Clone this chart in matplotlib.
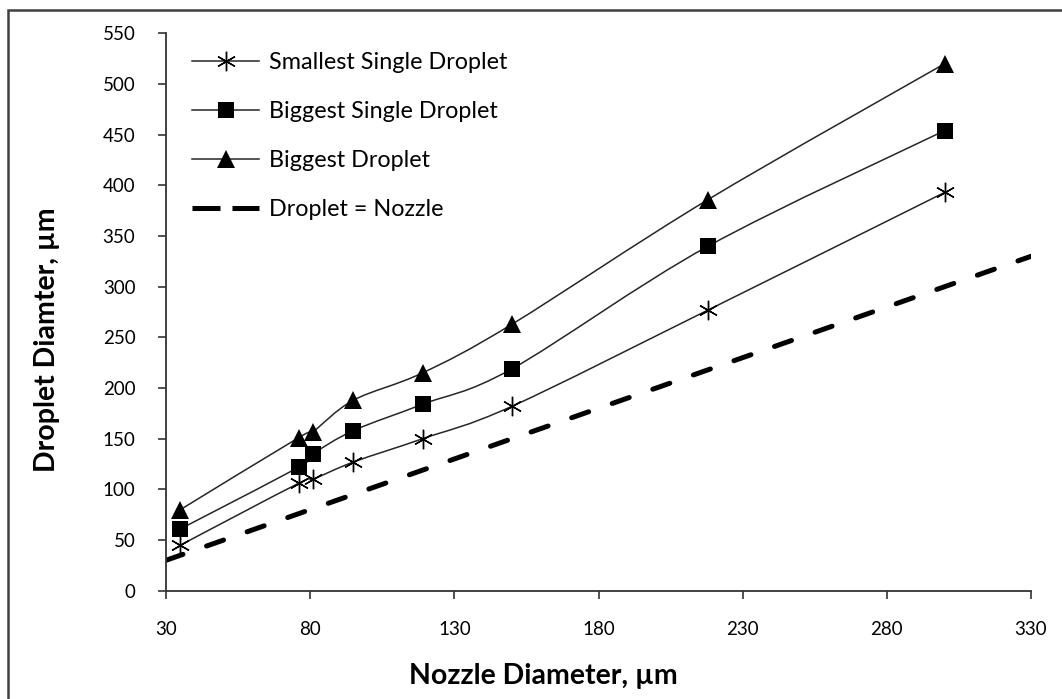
import numpy as np
import matplotlib
matplotlib.use("Agg")
import matplotlib.pyplot as plt
from matplotlib.path import Path
from matplotlib.patches import PathPatch, Rectangle
from matplotlib.lines import Line2D

plt.rcParams['font.family'] = ['Lato', 'DejaVu Sans']

# Nozzle diameters (µm) and measured droplet diameters (µm)
nozzle = [35, 76, 81, 95, 119, 150, 218, 300]
smallest_single = [45, 106, 110, 127, 150, 182, 277, 393]
biggest_single = [61, 122, 135, 158, 184, 219, 340, 454]
biggest = [80, 151, 157, 188, 215, 263, 386, 520]

reference_x = [30, 330]
reference_y = [30, 330]

x_ticks = [30, 80, 130, 180, 230, 280, 330]
y_ticks = list(range(0, 551, 50))

series_labels = ["Smallest Single Droplet", "Biggest Single Droplet",
                 "Biggest Droplet", "Droplet = Nozzle"]


def smooth_path(xs, ys):
    """Cubic Bezier path through the points (Catmull-Rom style smoothing)."""
    pts = np.column_stack([xs, ys]).astype(float)
    n = len(pts)
    verts = [pts[0]]
    codes = [Path.MOVETO]
    for i in range(n - 1):
        p0 = pts[i - 1] if i > 0 else pts[i]
        p1 = pts[i]
        p2 = pts[i + 1]
        p3 = pts[i + 2] if i + 2 < n else pts[i + 1]
        c1 = p1 + (p2 - p0) / 6.0
        c2 = p2 - (p3 - p1) / 6.0
        verts += [c1, c2, p2]
        codes += [Path.CURVE4] * 3
    return Path(verts, codes)


W, H = 1062, 699
fig = plt.figure(figsize=(W / 100, H / 100), dpi=100)
ax = fig.add_axes([166 / W, 1 - 590.7 / H, 865 / W, (590.7 - 33.4) / H])

line_color = "#262626"
asterisk = (6, 2, 0)
series = [
    (smallest_single, asterisk, dict(markersize=14, markeredgewidth=1.0,
                                     markeredgecolor="black", markerfacecolor="black")),
    (biggest_single, "s", dict(markersize=12, markeredgewidth=0,
                               markerfacecolor="black")),
    (biggest, "^", dict(markersize=13, markeredgewidth=0,
                        markerfacecolor="black")),
]

handles = []
for ys, mk, kw in series:
    ax.add_patch(PathPatch(smooth_path(nozzle, ys), facecolor="none",
                           edgecolor=line_color, lw=1.1, zorder=2))
    ax.plot(nozzle, ys, linestyle="none", marker=mk, zorder=3, **kw)
    handles.append(Line2D([], [], color=line_color, lw=1.1, marker=mk, **kw))

ax.plot(reference_x, reference_y, color="black", lw=3.6,
        dashes=(3.6, 5.0), dash_capstyle="round", zorder=2)
handles.append(Line2D([], [], color="black", lw=3.6, dashes=(5.6, 2.4),
                      dash_capstyle="butt"))

ax.set_xlim(30, 330)
ax.set_ylim(0, 550)
ax.set_xticks(x_ticks)
ax.set_yticks(y_ticks)
for s in ("top", "right"):
    ax.spines[s].set_visible(False)
for s in ("left", "bottom"):
    ax.spines[s].set_color("#333333")
    ax.spines[s].set_linewidth(1.3)
ax.tick_params(axis="both", direction="out", length=6, width=1.2,
               color="#333333", labelsize=13.5, labelcolor="black")
ax.tick_params(axis="y", pad=16)
ax.tick_params(axis="x", pad=16)
ax.set_facecolor("white")

leg = ax.legend(handles, series_labels, loc="upper left",
                bbox_to_anchor=(0.0197, 0.9826), frameon=False, fontsize=16.8,
                handlelength=2.85, handletextpad=0.42, labelspacing=1.2,
                borderaxespad=0)

fig.text(543 / W, 1 - 676 / H, "Nozzle Diameter, µm", ha="center",
         va="center", fontsize=20.5, fontweight="bold")
fig.text(47 / W, 1 - 340 / H, "Droplet Diamter, µm", ha="center",
         va="center", rotation=90, fontsize=20.5, fontweight="bold")

# outer chart frame
fig.patches.append(Rectangle((7.5 / W, -0.05), 1.1, 1 - 10 / H + 0.05,
                             transform=fig.transFigure, fill=False,
                             edgecolor="#404040", lw=1.8, zorder=10))

fig.savefig("out.png", dpi=100, facecolor="white")
